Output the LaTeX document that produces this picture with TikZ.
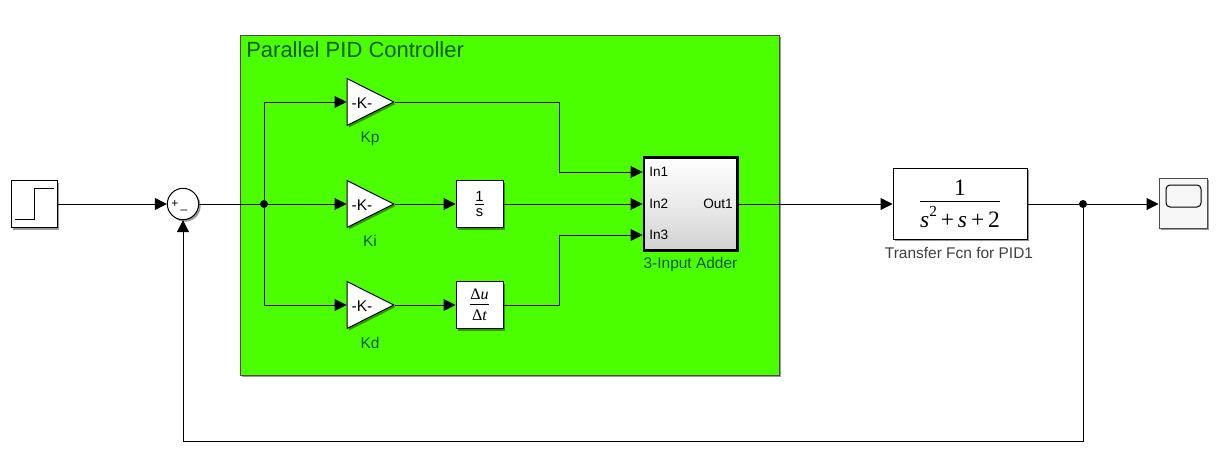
\documentclass[tikz,border=0pt]{standalone}
\usepackage{fontspec}
\setmainfont{Liberation Sans}
\newfontfamily\serf{Liberation Serif}
\usetikzlibrary{shapes.geometric,arrows.meta,shadows,calc}
\definecolor{pidgreen}{HTML}{4CFF00}
\definecolor{onGreen}{HTML}{0E5A12}
\tikzset{
  x=0.75pt,y=-0.75pt,
  wire/.style={line width=0.75pt,draw=black},
  arr/.style={wire,-{Triangle[length=9pt,width=9pt]}},
  shad/.style={drop shadow={shadow xshift=1.5pt,shadow yshift=-1.5pt,opacity=0.4,fill=black}},
  block/.style={draw=black,line width=0.75pt,fill=white,inner sep=0pt,shad},
  gain/.style={isosceles triangle,isosceles triangle apex angle=53,isosceles triangle stretches,
    draw=black,line width=0.75pt,fill=white,inner sep=0pt,minimum width=35.2pt,minimum height=35pt,
    anchor=lower side,shad},
  gaintxt/.style={inner sep=0pt,font=\fontsize{11.6}{14}\selectfont},
  dot/.style={circle,fill=black,inner sep=0pt,minimum size=6pt},
  lab/.style={font=\fontsize{11.6}{13}\selectfont,text=onGreen,inner sep=0pt},
  port/.style={font=\fontsize{10.2}{12}\selectfont,inner sep=0pt},
}
\begin{document}
\begin{tikzpicture}
\useasboundingbox (0,0) rectangle (1218,464);
\fill[white] (0,0) rectangle (1218,464);
\node[draw=black!70,line width=0.5pt,fill=pidgreen,minimum width=404.25pt,minimum height=255pt,inner sep=0pt,shad] (pid) at (509.5,205) {};
\node[anchor=west,inner sep=0pt,font=\fontsize{16.5}{19}\selectfont,text=onGreen] (pidt) at (246,50) {Parallel PID Controller};
% step
\node[block,minimum width=34.5pt,minimum height=35.25pt] (step) at (34,204) {};
\draw[line width=0.75pt] (15,219) -- (34.5,219) -- (34.5,188) -- (54,188);
% sum
\node[block,circle,minimum size=23.5pt] (sum) at (183,204) {};
\node[inner sep=0pt,font=\fontsize{9}{10}\selectfont] (plus) at (175,204) {+};
\node[inner sep=0pt,font=\fontsize{9}{10}\selectfont] (minus) at (184,210) {\_};
\node[dot] (j1) at (264,204) {};
% gains
\node[gain] (kp) at (346.5,102) {};
\node[gain] (ki) at (346.5,204) {};
\node[gain] (kd) at (346.5,305) {};
\node[gaintxt] (kpt) at (362,103) {-K-};
\node[gaintxt] (kit) at (362,205) {-K-};
\node[gaintxt] (kdt) at (362,306) {-K-};
\node[lab] (kpl) at (370,139) {Kp};
\node[lab] (kil) at (370,241) {Ki};
\node[lab] (kdl) at (370,343) {Kd};
% integrator, derivative
\node[block,minimum width=35.25pt,minimum height=35.25pt] (int) at (479.5,204) {\shortstack{\fontsize{11}{11}\selectfont 1\\[-1pt]\rule{7pt}{0.5pt}\\[0pt]\fontsize{11}{11}\selectfont s}};
\node[block,minimum width=35.25pt,minimum height=35.25pt] (der) at (479.5,305) {$\frac{\hbox{\fontsize{12}{13}\serf\selectfont\rule[-0.25em]{0pt}{0.7em}Δ\itshape u}}{\hbox{\fontsize{12}{13}\serf\selectfont\rule{0pt}{0.95em}Δ\itshape t}}$};
% adder
\node[draw=black,line width=2pt,minimum width=70pt,minimum height=69.5pt,inner sep=0pt,top color=white,bottom color=black!18,middle color=white!92!black,shad] (add) at (690.5,204) {};
\coordinate (in1) at (add.west |- 0,172);
\coordinate (in2) at (add.west |- 0,204);
\coordinate (in3) at (add.west |- 0,235);
\node[port,anchor=west] (in1t) at (649,172) {In1};
\node[port,anchor=west] (in2t) at (649,204) {In2};
\node[port,anchor=west] (in3t) at (649,235) {In3};
\node[port,anchor=east] (outt) at (733,204) {Out1};
\node[lab] (addl) at (690.5,264) {3-Input Adder};
% transfer
\node[block,minimum width=100.5pt,minimum height=53.25pt] (tf) at (960,203.5) {$\frac{\hbox{\fontsize{17.6}{19}\serf\selectfont\rule[-0.25em]{0pt}{0.7em}1}}{\hbox{\fontsize{17.6}{19}\serf\selectfont\rule{0pt}{1.05em}\itshape s\raisebox{0.45em}{\fontsize{11.5}{12}\selectfont\upshape 2}\upshape\,+\,\itshape s\upshape\,+\,2}}$};
\node[lab,text=black!75] (tfl) at (959,253) {Transfer Fcn for PID1};
\node[dot] (j2) at (1083,204) {};
% scope
\node[block,fill=white!97!black,draw=black!70,minimum width=36pt,minimum height=37.5pt] (scope) at (1183,203) {};
\node[draw=black,line width=0.75pt,rounded corners=3pt,minimum width=26.25pt,minimum height=16.5pt,inner sep=0pt] (scr) at (1183.5,196) {};
% wires
\draw[arr] (step.east |- sum) -- (sum.west);
\draw[wire] (sum.east) -- (j1);
\draw[arr] (j1) -- (ki.lower side);
\coordinate (ja) at (264,102);
\coordinate (jb) at (264,305);
\draw[arr] (j1) -- (ja) -- (kp.lower side);
\draw[arr] (j1) -- (jb) -- (kd.lower side);
\draw[arr] (ki.apex) -- (int.west);
\draw[arr] (kd.apex) -- (der.west);
\coordinate (ca) at (559,102);
\coordinate (cb) at (559,172);
\coordinate (cc) at (559,305);
\coordinate (cd) at (559,235);
\draw[arr] (kp.apex) -- (ca) -- (cb) -- (in1);
\draw[arr] (int.east) -- (in2);
\draw[arr] (der.east) -- (cc) -- (cd) -- (in3);
\draw[arr] (add.east) -- (tf.west |- add);
\draw[wire] (tf.east |- j2) -- (j2);
\draw[arr] (j2) -- (scope.west |- j2);
\coordinate (fa) at (1083,441);
\coordinate (fb) at (183,441);
\draw[arr] (j2) -- (fa) -- (fb) -- (sum.south);
\end{tikzpicture}
\end{document}
